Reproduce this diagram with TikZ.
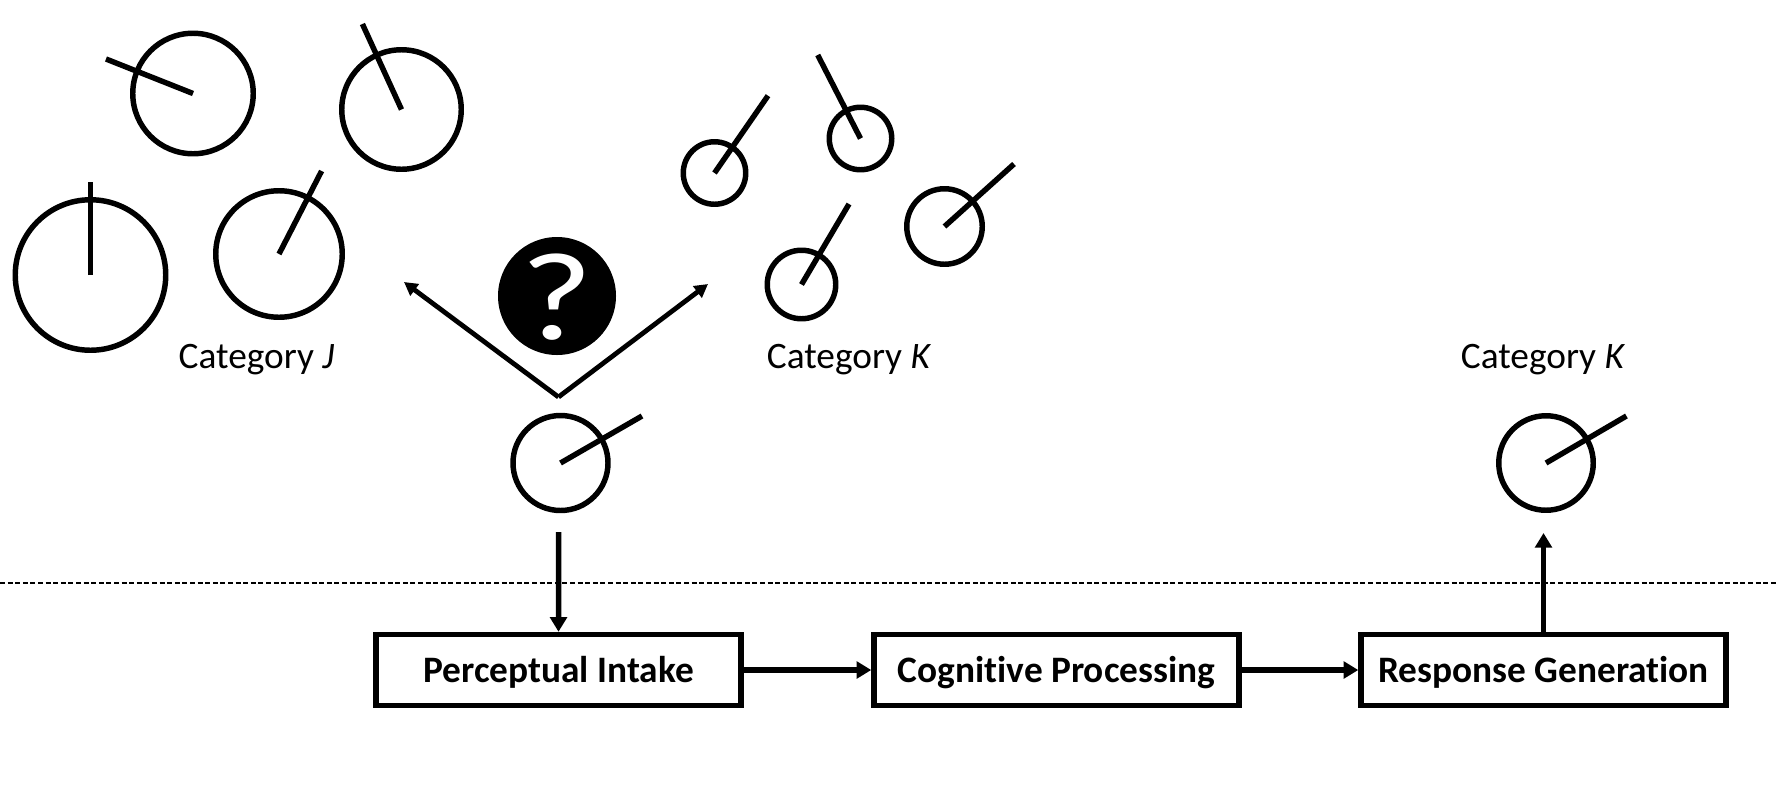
\documentclass[tikz,border=0pt]{standalone}
\usepackage{fontspec}
\setmainfont[Ligatures=NoCommon]{Carlito}
\usetikzlibrary{arrows.meta}
\tikzset{
  disc/.style={circle,draw=black,line width=4.1pt,inner sep=0pt,minimum size=(#1-3.5)*0.75pt},
  tick/.style={line width=4.1pt,black},
  procbox/.style={rectangle,draw=black,line width=4.1pt,fill=white,inner sep=0pt,minimum width=273.75pt,minimum height=53.25pt,font=\bfseries\fontsize{28}{32}\selectfont,text height=21.5pt,text depth=3.5pt},
  flow/.style={line width=4.1pt,-{Triangle[length=11pt,width=12.5pt]}},
  choice/.style={line width=3.6pt,-{Triangle[length=10pt,width=10.5pt]}},
  catlabel/.style={anchor=base,inner sep=0pt,font=\fontsize{28}{32}\selectfont}
}
\begin{document}
\begin{tikzpicture}[x=0.75pt,y=-0.75pt]
\useasboundingbox (0,0) rectangle (1776,786);
% category J
\node[disc=124] (j1) at (193,93.5) {};
\coordinate (j1t) at (106,59);
\draw[tick] (j1.center) -- (j1t);
\node[disc=123] (j2) at (401.5,109.5) {};
\coordinate (j2t) at (362.4,24);
\draw[tick] (j2.center) -- (j2t);
\node[disc=154] (j3) at (90.5,275) {};
\coordinate (j3t) at (90.5,182);
\draw[tick] (j3.center) -- (j3t);
\node[disc=130] (j4) at (279,254) {};
\coordinate (j4t) at (321.6,171);
\draw[tick] (j4.center) -- (j4t);
\node[catlabel] (lj) at (256.5,368.7) {Category \textit{J}};
% category K
\node[disc=66] (k1) at (714.5,173) {};
\coordinate (k1t) at (768,95.7);
\draw[tick] (k1.center) -- (k1t);
\node[disc=66] (k2) at (860.5,138.5) {};
\coordinate (k2t) at (817.7,55);
\draw[tick] (k2.center) -- (k2t);
\node[disc=72] (k3) at (801.5,284.5) {};
\coordinate (k3t) at (849,204);
\draw[tick] (k3.center) -- (k3t);
\node[disc=79] (k4) at (944.5,226.5) {};
\coordinate (k4t) at (1014,164);
\draw[tick] (k4.center) -- (k4t);
\node[catlabel] (lk) at (849,368.7) {Category \textit{K}};
% question
\node[circle,fill=black,inner sep=0pt,minimum size=118*0.75pt] (q) at (557,296) {};
\node[text=white,inner sep=0pt,anchor=base,font=\fontsize{94}{94}\selectfont] (qm) at (557,339.5) {\scalebox{1.25}[1]{?}};
% stimulus
\node[disc=98.5] (s) at (560.5,463) {};
\coordinate (st) at (642,416);
\draw[tick] (s.center) -- (st);
\coordinate (apex) at (558.5,397);
\coordinate (left) at (404,282);
\coordinate (right) at (708,284);
\draw[choice] (apex) -- (left);
\draw[choice] (apex) -- (right);
% response
\node[catlabel] (lr) at (1543,368.7) {Category \textit{K}};
\node[disc=98] (r) at (1546,463) {};
\coordinate (rt) at (1626.4,416);
\draw[tick] (r.center) -- (rt);
% divider
\coordinate (dl) at (0,583);
\coordinate (dr) at (1776,583);
\draw[line width=0.9pt,dash pattern=on 3.8pt off 1.9pt] (dl) -- (dr);
% process
\node[procbox] (b1) at (558.5,670) {Perceptual Intake};
\node[procbox] (b2) at (1056.5,670) {Cognitive Processing};
\node[procbox] (b3) at (1543.5,670) {Response Generation};
\coordinate (din) at (558.7,532);
\coordinate (dout) at (1543.5,533);
\draw[flow] (din) -- (b1.north);
\draw[flow] (b1.east) -- (b2.west);
\draw[flow] (b2.east) -- (b3.west);
\draw[flow] (b3.north) -- (dout);
\end{tikzpicture}
\end{document}
